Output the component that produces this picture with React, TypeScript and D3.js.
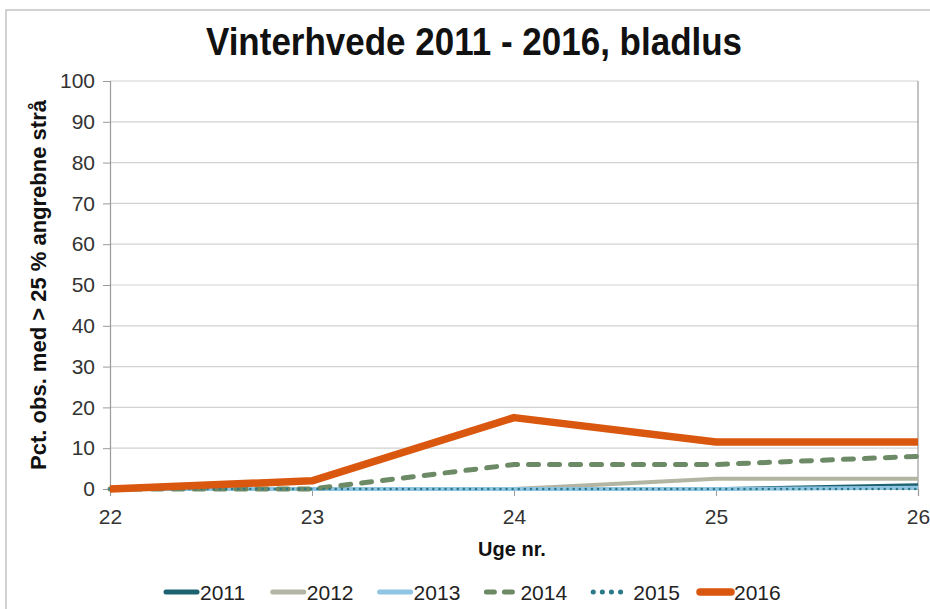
import React, { useEffect, useRef } from "react";
import * as d3 from "d3";

// weeks on the x axis
const weeks = [22, 23, 24, 25, 26];
const yTicks = [0, 10, 20, 30, 40, 50, 60, 70, 80, 90, 100];

// pct. observations with > 25 % infested straws, per year
const s2011 = [0, 0, 0, 0, 1];
const s2012 = [0, 0, 0, 2.5, 2.5];
const s2013 = [0, 0, 0, 0, 0.3];
const s2014 = [0, 0, 6, 6, 8];
const s2015 = [0, 0, 0, 0, 0];
const s2016 = [0, 2, 17.5, 11.5, 11.5];

const seriesNames = ["2011", "2012", "2013", "2014", "2015", "2016"];

export default function App() {
  const ref = useRef<SVGSVGElement>(null);

  useEffect(() => {
    const W = 930, H = 609;
    const margin = { top: 81, right: 12, bottom: 120, left: 110 };
    const font = "Liberation Sans, Arial, sans-serif";

    const svg = d3.select(ref.current);
    svg.selectAll("*").remove();

    const series = [
      { name: "2011", values: s2011, color: "#1d6270", width: 3.5, dash: null, cap: "butt" },
      { name: "2012", values: s2012, color: "#b3b5a3", width: 4, dash: null, cap: "butt" },
      { name: "2013", values: s2013, color: "#8fc4e2", width: 4, dash: null, cap: "butt" },
      { name: "2014", values: s2014, color: "#6d8a66", width: 5, dash: "10,11", cap: "round" },
      { name: "2015", values: s2015, color: "#2b7a87", width: 2.5, dash: "0.1,6", cap: "round" },
      { name: "2016", values: s2016, color: "#d9570e", width: 7.5, dash: null, cap: "butt" },
    ];

    const x = d3.scaleLinear()
      .domain([d3.min(weeks)!, d3.max(weeks)!])
      .range([margin.left, W - margin.right]);
    const y = d3.scaleLinear()
      .domain([0, 100])
      .range([H - margin.bottom, margin.top]);

    // outer frame
    svg.append("path")
      .attr("d", `M6,${H} V10 H${W}`)
      .attr("fill", "none")
      .attr("stroke", "#c4c4c4")
      .attr("stroke-width", 1.5);

    // gridlines
    svg.append("g")
      .selectAll("line")
      .data(yTicks.filter(d => d > 0))
      .join("line")
      .attr("x1", x.range()[0])
      .attr("x2", x.range()[1])
      .attr("y1", d => y(d))
      .attr("y2", d => y(d))
      .attr("stroke", "#d2d2d2")
      .attr("stroke-width", 1.2);

    // right border of plot
    svg.append("line")
      .attr("x1", x.range()[1]).attr("x2", x.range()[1])
      .attr("y1", y(100)).attr("y2", y(0))
      .attr("stroke", "#9a9a9a").attr("stroke-width", 1.2);

    // y axis
    const yAxis = svg.append("g")
      .attr("transform", `translate(${margin.left},0)`)
      .call(d3.axisLeft(y).tickValues(yTicks).tickSize(7).tickPadding(8));
    yAxis.select(".domain").attr("stroke", "#9a9a9a").attr("stroke-width", 1.2);
    yAxis.selectAll(".tick line").attr("stroke", "#9a9a9a");
    yAxis.selectAll("text")
      .attr("font-family", font)
      .attr("font-size", 21)
      .attr("fill", "#333");

    // x axis
    const xAxis = svg.append("g")
      .attr("transform", `translate(0,${y(0)})`)
      .call(d3.axisBottom(x).tickValues(weeks).tickFormat(d3.format("d")).tickSize(7).tickPadding(13));
    xAxis.select(".domain").attr("stroke", "#9a9a9a").attr("stroke-width", 1.2);
    xAxis.selectAll(".tick line").attr("stroke", "#9a9a9a");
    xAxis.selectAll("text")
      .attr("font-family", font)
      .attr("font-size", 21)
      .attr("fill", "#333");

    // lines
    const line = d3.line<number>()
      .x((_, i) => x(weeks[i]))
      .y(d => y(d));

    series.forEach(s => {
      svg.append("path")
        .datum(s.values)
        .attr("d", line)
        .attr("fill", "none")
        .attr("stroke", s.color)
        .attr("stroke-width", s.width)
        .attr("stroke-linejoin", "round")
        .attr("stroke-linecap", s.cap)
        .attr("stroke-dasharray", s.dash);
    });

    // title (slightly tall, like the original)
    svg.append("text")
      .attr("transform", "translate(474,55) scale(1,1.1)")
      .attr("text-anchor", "middle")
      .attr("font-family", font)
      .attr("font-weight", "bold")
      .attr("font-size", 35)
      .attr("fill", "#111")
      .text("Vinterhvede 2011 - 2016, bladlus");

    // axis titles
    svg.append("text")
      .attr("x", 512)
      .attr("y", 556)
      .attr("text-anchor", "middle")
      .attr("font-family", font)
      .attr("font-weight", "bold")
      .attr("font-size", 20)
      .attr("fill", "#111")
      .text("Uge nr.");
    svg.append("text")
      .attr("transform", "rotate(-90)")
      .attr("x", -285)
      .attr("y", 46)
      .attr("text-anchor", "middle")
      .attr("font-family", font)
      .attr("font-weight", "bold")
      .attr("font-size", 22)
      .attr("fill", "#111")
      .text("Pct. obs. med > 25 % angrebne strå");

    // legend
    const legendX = d3.scalePoint<string>()
      .domain(seriesNames)
      .range([163, 697]);
    const lg = svg.append("g")
      .selectAll("g")
      .data(series)
      .join("g")
      .attr("transform", d => `translate(${legendX(d.name)},592)`);
    lg.append("line")
      .attr("x1", 3).attr("x2", 34)
      .attr("y1", 0).attr("y2", 0)
      .attr("stroke", d => d.color)
      .attr("stroke-width", d => Math.max(d.width, 5))
      .attr("stroke-linecap", "round")
      .attr("stroke-dasharray", d => d.name === "2014" ? "8,10" : d.name === "2015" ? "0.1,9" : null);
    lg.append("text")
      .attr("x", d => d.name === "2015" ? 43 : 37)
      .attr("y", 8)
      .attr("font-family", font)
      .attr("font-size", 21)
      .attr("fill", "#222")
      .text(d => d.name);
  }, []);

  return (
    <div style={{ position: "absolute", left: 0, top: 0 }}>
      <svg ref={ref} width={930} height={609} style={{ display: "block", background: "#fff" }} />
    </div>
  );
}
